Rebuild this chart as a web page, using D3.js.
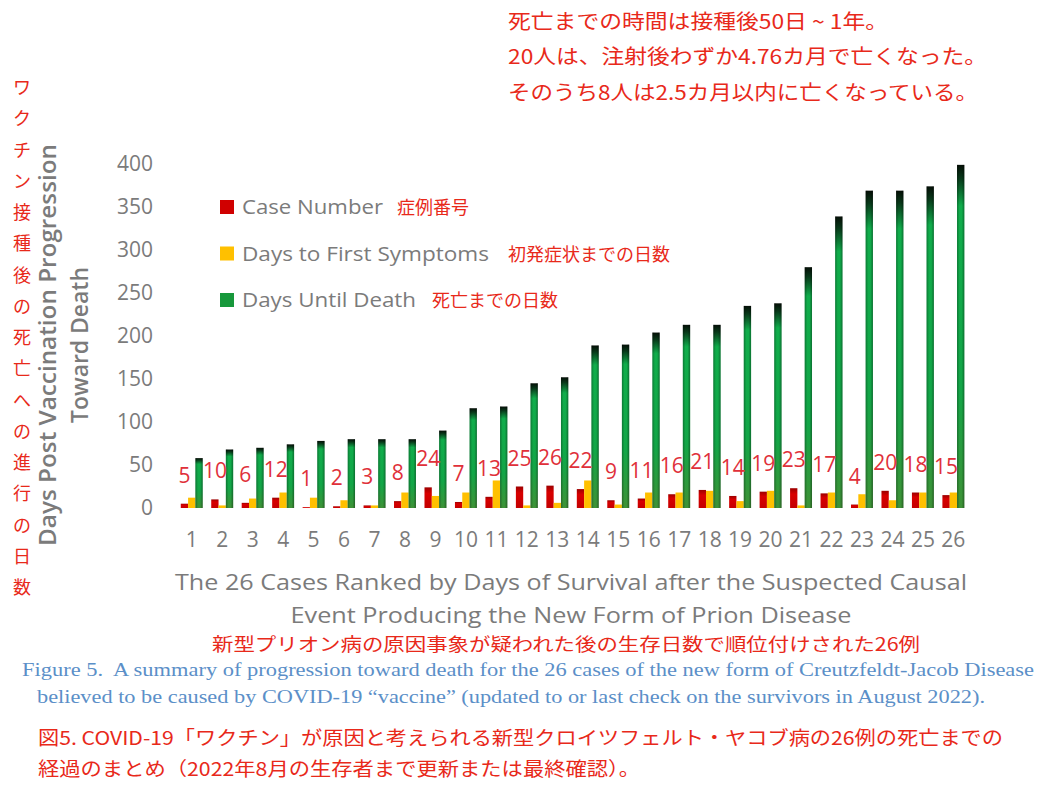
<!DOCTYPE html>
<html>
<head>
<meta charset="utf-8">
<script src="https://cdn.jsdelivr.net/npm/d3@7"></script>
<style>
  body { margin: 0; background: #fff; }
  svg { display: block; }
</style>
</head>
<body>
<script>
// ********************** DATA **********************
var cases = d3.range(1, 27);
var caseNumber = [5, 10, 6, 12, 1, 2, 3, 8, 24, 7, 13, 25, 26, 22, 9, 11, 16, 21, 14, 19, 23, 17, 4, 20, 18, 15];
var daysToSymptoms = [12, 3, 11, 18, 12, 9, 3, 18, 14, 18, 32, 3, 6, 32, 4, 18, 18, 20, 8, 20, 3, 18, 16, 9, 18, 18];
var daysUntilDeath = [58, 68, 70, 74, 78, 80, 80, 80, 90, 116, 118, 145, 152, 189, 190, 204, 213, 213, 235, 238, 280, 339, 369, 369, 374, 399];
var yTicks = [0, 50, 100, 150, 200, 250, 300, 350, 400];
var seriesKeys = ["case", "symptoms", "death"];
var legendLabels = ["Case Number", "Days to First Symptoms", "Days Until Death"];
var legendJa = ["症例番号", "初発症状までの日数", "死亡までの日数"];

var gray = "#7b7b7b";
var jaRed = "#e8291a";
var sans = "'Open Sans', 'Noto Sans', sans-serif";
var jaFont = "'Noto Sans CJK JP', sans-serif";

var svg = d3.select("body").append("svg")
  .attr("width", 1048)
  .attr("height", 792);

svg.append("rect").attr("width", 1048).attr("height", 792).attr("fill", "#fff");

// gradients for the bars
var defs = svg.append("defs");
var gGreen = defs.append("linearGradient").attr("id", "greenGrad")
  .attr("x1", 0).attr("y1", 0).attr("x2", 0).attr("y2", 1);
[["0%", "#050f07"], ["4%", "#083a1a"], ["12%", "#10ad4b"], ["65%", "#12a647"], ["100%", "#3e9236"]]
  .forEach(function(s) { gGreen.append("stop").attr("offset", s[0]).attr("stop-color", s[1]); });

var gShade = defs.append("linearGradient").attr("id", "shadeGrad")
  .attr("x1", 0).attr("y1", 0).attr("x2", 1).attr("y2", 0);
[["0%", 0.3], ["35%", 0], ["65%", 0], ["100%", 0.35]]
  .forEach(function(s) { gShade.append("stop").attr("offset", s[0]).attr("stop-color", "#000").attr("stop-opacity", s[1]); });

var gRed = defs.append("linearGradient").attr("id", "redGrad")
  .attr("x1", 0).attr("y1", 0).attr("x2", 0).attr("y2", 1);
[["0%", "#9c0000"], ["30%", "#d80000"], ["100%", "#c40000"]]
  .forEach(function(s) { gRed.append("stop").attr("offset", s[0]).attr("stop-color", s[1]); });

var fills = { "case": "url(#redGrad)", "symptoms": "#ffc000", "death": "url(#greenGrad)" };

// helper for text
function addText(x, y, str, size, color, font, anchor, len) {
  var t = svg.append("text")
    .attr("x", x)
    .attr("y", y)
    .text(str)
    .style("font-size", size + "px")
    .style("font-family", font)
    .style("fill", color)
    .attr("text-anchor", anchor || "start");
  if (len) t.attr("textLength", len).attr("lengthAdjust", "spacingAndGlyphs");
  return t;
}

// ********************** SCALES **********************
var x = d3.scaleBand()
  .domain(cases)
  .range([176.5, 968.6])
  .paddingInner(0.28)
  .paddingOuter(0.14);

var xSub = d3.scaleBand()
  .domain(seriesKeys)
  .range([0, x.bandwidth()]);

var y = d3.scaleLinear()
  .domain([0, 400])
  .range([508, 164]);

// ********************** AXES **********************
var yAxis = svg.append("g")
  .attr("transform", "translate(153,0)")
  .call(d3.axisLeft(y).tickValues(yTicks).tickSize(0).tickPadding(0));
yAxis.select(".domain").remove();
yAxis.selectAll("text")
  .style("font-size", "21px")
  .style("font-family", sans)
  .style("fill", gray);

var xAxis = svg.append("g")
  .attr("transform", "translate(0,532)")
  .call(d3.axisBottom(x).tickSize(0).tickPadding(0));
xAxis.select(".domain").remove();
xAxis.selectAll("text")
  .style("font-size", "21px")
  .style("font-family", sans)
  .style("fill", gray);

// ********************** BARS **********************
var rows = cases.map(function(c, i) {
  return { c: c, vals: { "case": caseNumber[i], "symptoms": daysToSymptoms[i], "death": daysUntilDeath[i] } };
});

var groups = svg.append("g").selectAll("g")
  .data(rows)
  .enter().append("g")
  .attr("transform", function(d) { return "translate(" + x(d.c) + ",0)"; });

groups.selectAll("rect.bar")
  .data(function(d) { return seriesKeys.map(function(k) { return { k: k, v: d.vals[k] }; }); })
  .enter().append("rect")
  .attr("class", "bar")
  .attr("x", function(d) { return xSub(d.k); })
  .attr("y", function(d) { return y(d.v); })
  .attr("width", xSub.bandwidth())
  .attr("height", function(d) { return y(0) - y(d.v); })
  .attr("fill", function(d) { return fills[d.k]; });

// cylinder-ish shading on green bars
groups.append("rect")
  .attr("x", xSub("death"))
  .attr("y", function(d) { return y(d.vals.death); })
  .attr("width", xSub.bandwidth())
  .attr("height", function(d) { return y(0) - y(d.vals.death); })
  .attr("fill", "url(#shadeGrad)");

// case number labels above the red bars
groups.append("text")
  .attr("x", xSub("case") + xSub.bandwidth() / 2)
  .attr("y", function(d) { return y(d.vals["case"]) - 21; })
  .attr("text-anchor", "middle")
  .text(function(d) { return d.vals["case"]; })
  .style("font-size", "21px")
  .style("font-family", sans)
  .style("fill", "#e0303a");

// ********************** LEGEND **********************
var legendColors = ["#d00000", "#ffc000", "#17983b"];
var legendLens = [141, 247, 174];
var legendJaX = [397, 508, 432];
legendLabels.forEach(function(lab, i) {
  var cy = 207 + i * 46.5;
  svg.append("rect")
    .attr("x", 220)
    .attr("y", cy - 7)
    .attr("width", 14)
    .attr("height", 14)
    .attr("fill", legendColors[i]);
  addText(242, cy + 7, lab, 20, gray, sans, "start", legendLens[i]);
  addText(legendJaX[i], cy + 7, legendJa[i], 18, jaRed, jaFont);
});

// ********************** AXIS TITLES **********************
var yTitle = svg.append("g").attr("transform", "translate(0,345) rotate(-90)");
yTitle.append("text")
  .attr("x", 0).attr("y", 56)
  .attr("text-anchor", "middle")
  .attr("textLength", 402).attr("lengthAdjust", "spacingAndGlyphs")
  .text("Days Post Vaccination Progression")
  .style("font-size", "23px").style("font-weight", "600")
  .style("font-family", sans).style("fill", gray);
yTitle.append("text")
  .attr("x", 0).attr("y", 88)
  .attr("text-anchor", "middle")
  .attr("textLength", 156).attr("lengthAdjust", "spacingAndGlyphs")
  .text("Toward Death")
  .style("font-size", "23px").style("font-weight", "600")
  .style("font-family", sans).style("fill", gray);

// vertical japanese axis title
var jaVertical = "ワクチン接種後の死亡への進行の日数".split("");
jaVertical.forEach(function(ch, i) {
  addText(22, 94 + i * 31.25, ch, 18, jaRed, jaFont, "middle");
});

addText(571, 590, "The 26 Cases Ranked by Days of Survival after the Suspected Causal", 22, gray, sans, "middle", 792);
addText(571, 623, "Event Producing the New Form of Prion Disease", 22, gray, sans, "middle", 561);
addText(566, 651, "新型プリオン病の原因事象が疑われた後の生存日数で順位付けされた26例", 18, jaRed, jaFont, "middle", 708);

// ********************** CAPTIONS **********************
var serif = "'Liberation Serif', 'DejaVu Serif', serif";
addText(22, 676, "Figure 5.  A summary of progression toward death for the 26 cases of the new form of Creutzfeldt-Jacob Disease", 19, "#5b8fc8", serif, "start", 1012).style("white-space", "pre");
addText(37, 703, "believed to be caused by COVID-19 \u201Cvaccine\u201D (updated to or last check on the survivors in August 2022).", 19, "#5b8fc8", serif, "start", 948);

addText(38, 745, "図5. COVID-19「ワクチン」が原因と考えられる新型クロイツフェルト・ヤコブ病の26例の死亡までの", 19, jaRed, jaFont, "start", 965);
addText(38, 776, "経過のまとめ（2022年8月の生存者まで更新または最終確認）。", 19, jaRed, jaFont, "start", 602);

// ********************** TOP NOTES **********************
addText(508, 29, "死亡までの時間は接種後50日 ~ 1年。", 20, jaRed, jaFont, "start", 380);
addText(508, 64, "20人は、注射後わずか4.76カ月で亡くなった。", 20, jaRed, jaFont, "start", 479);
addText(508, 100, "そのうち8人は2.5カ月以内に亡くなっている。", 20, jaRed, jaFont, "start", 470);
</script>
</body>
</html>
